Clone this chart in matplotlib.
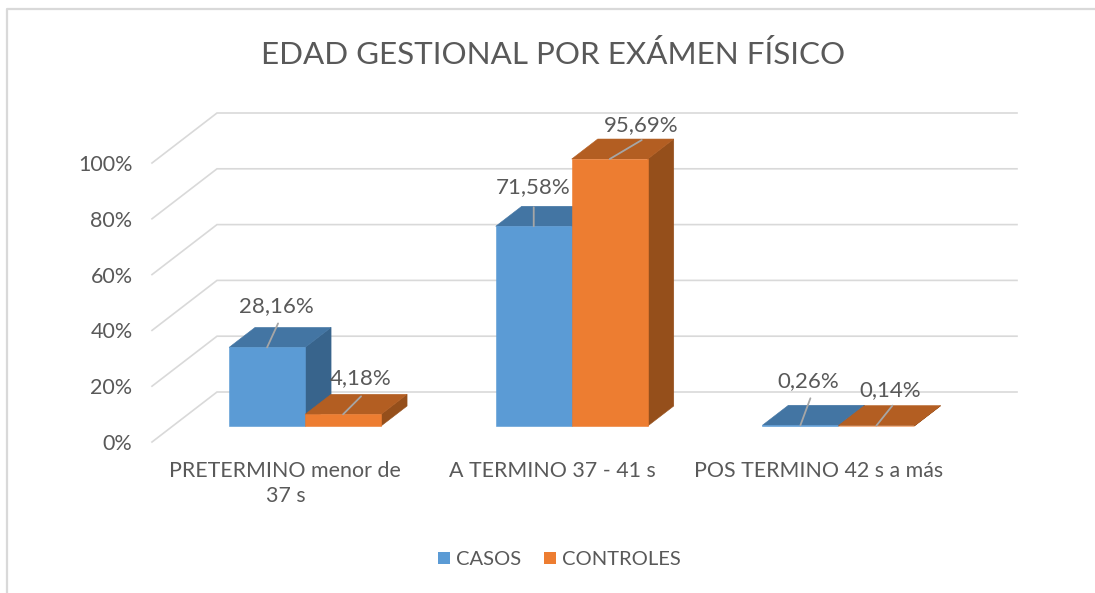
import matplotlib
matplotlib.use('Agg')
import matplotlib.pyplot as plt
from matplotlib.lines import Line2D
from matplotlib.patches import Patch

categories = ['PRETERMINO menor de\n37 s', 'A TERMINO 37 - 41 s', 'POS TERMINO 42 s a más']
casos = [28.16, 71.58, 0.26]
controles = [4.18, 95.69, 0.14]
y_ticks = [0, 20, 40, 60, 80, 100]
y_tick_labels = ['0%', '20%', '40%', '60%', '80%', '100%']

# colours: front, top, side
blue = ['#5B9BD5', '#4375A3', '#38648C']
orange = ['#ED7D31', '#B35E22', '#954F1B']
grid_col = '#D9D9D9'
text_col = '#595959'

W, H = 1095, 593
plt.rcParams['font.family'] = ['Lato', 'DejaVu Sans']

fig = plt.figure(figsize=(W / 100, H / 100), dpi=100, facecolor='white')
ax = fig.add_axes([152 / W, (H - 442) / H, 800 / W, 279 / H])
ax.set_xlim(-0.5, 2.5)
ax.set_ylim(0, 100)
for s in ax.spines.values():
    s.set_visible(False)

# oblique depth of the fake 3D box, in data units
DX = 65 / 800 * 3
DY = 50 / 2.79
BAR_W = 0.285
BAR_SHIFT = -0.004
D0, D1 = 0.32, 0.72


def pr(x, v, d):
    return x + d * DX, v + d * DY


# walls
for t in y_ticks:
    x0, y0 = pr(-0.5, t, 0)
    x1, y1 = pr(-0.5, t, 1)
    x2, y2 = pr(2.5, t, 1)
    ax.plot([x0, x1, x2], [y0, y1, y2], color=grid_col, lw=1.2, clip_on=False, zorder=1,
            solid_joinstyle='miter')


def draw_bar(left, val, cols):
    right = left + BAR_W
    front = [pr(left, 0, D0), pr(right, 0, D0), pr(right, val, D0), pr(left, val, D0)]
    top = [pr(left, val, D0), pr(right, val, D0), pr(right, val, D1), pr(left, val, D1)]
    side = [pr(right, 0, D0), pr(right, 0, D1), pr(right, val, D1), pr(right, val, D0)]
    for pts, c in [(side, cols[2]), (top, cols[1]), (front, cols[0])]:
        ax.fill(*zip(*pts), color=c, lw=0.4, clip_on=False, zorder=2)


for i in range(len(categories)):
    draw_bar(i - BAR_W + BAR_SHIFT, casos[i], blue)
    draw_bar(i + BAR_SHIFT, controles[i], orange)

# data labels with leader lines, offsets in pixels from the bar's top front edge
leader_ends = [[(11, 24), (0, 19), (10, 27)], [(18, 18), (32, 19), (16, 20)]]
label_pos = [[(9, 41), (-1, 39), (8, 44)], [(18, 36), (31, 34), (14, 36)]]
for k, (vals, left_off) in enumerate([(casos, -BAR_W), (controles, 0)]):
    for i, v in enumerate(vals):
        xy = pr(i + left_off + BAR_SHIFT + BAR_W / 2, v, D0)
        ax.annotate('', xy=xy, xycoords='data', xytext=leader_ends[k][i], textcoords='offset pixels',
                    arrowprops=dict(arrowstyle='-', color='#A6A6A6', lw=1.3, shrinkA=0, shrinkB=0),
                    zorder=3, annotation_clip=False)
        ax.annotate(f'{v:.2f}%'.replace('.', ','), xy=xy, xycoords='data', xytext=label_pos[k][i],
                    textcoords='offset pixels', ha='center', va='center', fontsize=16,
                    color=text_col, zorder=4, annotation_clip=False)

ax.set_yticks(y_ticks)
ax.set_yticklabels(y_tick_labels)
ax.set_xticks(range(len(categories)))
ax.set_xticklabels(categories, linespacing=1.3)
ax.tick_params(axis='y', length=0, pad=14, labelsize=15.5, labelcolor=text_col)
ax.tick_params(axis='x', length=0, pad=14, labelsize=15.4, labelcolor=text_col)

fig.text(553.5 / W, 1 - 55 / H, 'EDAD GESTIONAL POR EXÁMEN FÍSICO', ha='center', va='center',
         fontsize=22.6, color=text_col)

handles = [Patch(facecolor=blue[0], label='CASOS'), Patch(facecolor=orange[0], label='CONTROLES')]
fig.legend(handles=handles, loc='center', bbox_to_anchor=(559.5 / W, 1 - 559.5 / H), ncol=2, frameon=False,
           fontsize=14.5, labelcolor=text_col, handlelength=0.6, handleheight=0.6,
           handletextpad=0.3, columnspacing=1.1, borderpad=0, borderaxespad=0)

# chart frame (only top and left show in the crop)
fig.add_artist(Line2D([7 / W, 7 / W, 1], [0, 1 - 9 / H, 1 - 9 / H], color=grid_col, lw=1.6,
                      transform=fig.transFigure))

fig.savefig('out.png', dpi=100, facecolor='white')
